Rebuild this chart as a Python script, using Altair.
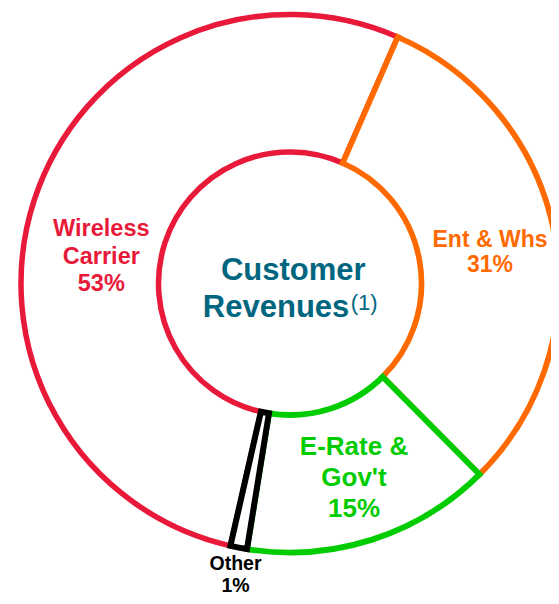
import math
import altair as alt
import pandas as pd

# Data
categories = ["Wireless Carrier", "Ent & Whs", "E-Rate & Gov't", "Other"]
shares = [53, 31, 15, 1]
label_lines = ["Wireless\nCarrier\n53%", "Ent & Whs\n31%", "E-Rate &\nGov't\n15%", "Other\n1%"]
colors = ["#E9193A", "#FF6A00", "#00CC00", "#000000"]
stroke_widths = [5.5, 6, 6, 7]
center_title = ["Customer", "Revenues", "(1)"]

df = pd.DataFrame({"category": categories, "share": shares, "idx": list(range(len(categories)))})

CX, CY = 282, 275.5
start = math.radians(192.8)

donut = alt.Chart(df).mark_arc(
    outerRadius=269, innerRadius=131.5, fill="white", strokeJoin="miter"
).encode(
    theta=alt.Theta("share:Q", stack=True, scale=alt.Scale(range=[start, start + 2 * math.pi])),
    order=alt.Order("idx:O"),
    stroke=alt.Stroke("category:N", scale=alt.Scale(domain=categories, range=colors), legend=None),
    strokeWidth=alt.StrokeWidth("category:N", scale=alt.Scale(domain=categories, range=stroke_widths), legend=None),
    x=alt.value(CX),
    y=alt.value(CY),
)

FONT = "Liberation Sans"

def label(i, x, y, size, lh):
    d = pd.DataFrame({"t": [label_lines[i]]})
    return alt.Chart(d).mark_text(
        font=FONT, fontWeight="bold", fontSize=size, lineBreak="\n", lineHeight=lh,
        align="center", baseline="alphabetic", color=colors[i]
    ).encode(text="t:N", x=alt.value(x), y=alt.value(y))

lbl_w = label(0, 93.3, 228, 23.5, 27.5)
lbl_e = label(1, 482, 238.5, 23, 25.5)
lbl_g = label(2, 346, 446.5, 26, 31)
lbl_o = label(3, 227.5, 562, 19.5, 22)

teal = "#006680"
t1 = alt.Chart(pd.DataFrame({"t": [center_title[0]]})).mark_text(
    font=FONT, fontWeight="bold", fontSize=31, align="center", baseline="alphabetic", color=teal
).encode(text="t:N", x=alt.value(285.3), y=alt.value(272))
t2 = alt.Chart(pd.DataFrame({"t": [center_title[1]]})).mark_text(
    font=FONT, fontWeight="bold", fontSize=31, align="right", baseline="alphabetic", color=teal
).encode(text="t:N", x=alt.value(341.3), y=alt.value(308.7))
t3 = alt.Chart(pd.DataFrame({"t": [center_title[2]]})).mark_text(
    font=FONT, fontWeight="normal", fontSize=22, align="left", baseline="alphabetic", color=teal
).encode(text="t:N", x=alt.value(342.7), y=alt.value(301.5))

chart = alt.layer(donut, lbl_w, lbl_e, lbl_g, lbl_o, t1, t2, t3).properties(
    width=543, height=588,
    autosize=alt.AutoSizeParams(type="none"),
    padding=0,
    background="white",
).configure_view(stroke=None)

chart.save("out.html", embed_options={"renderer": "svg", "actions": False})
